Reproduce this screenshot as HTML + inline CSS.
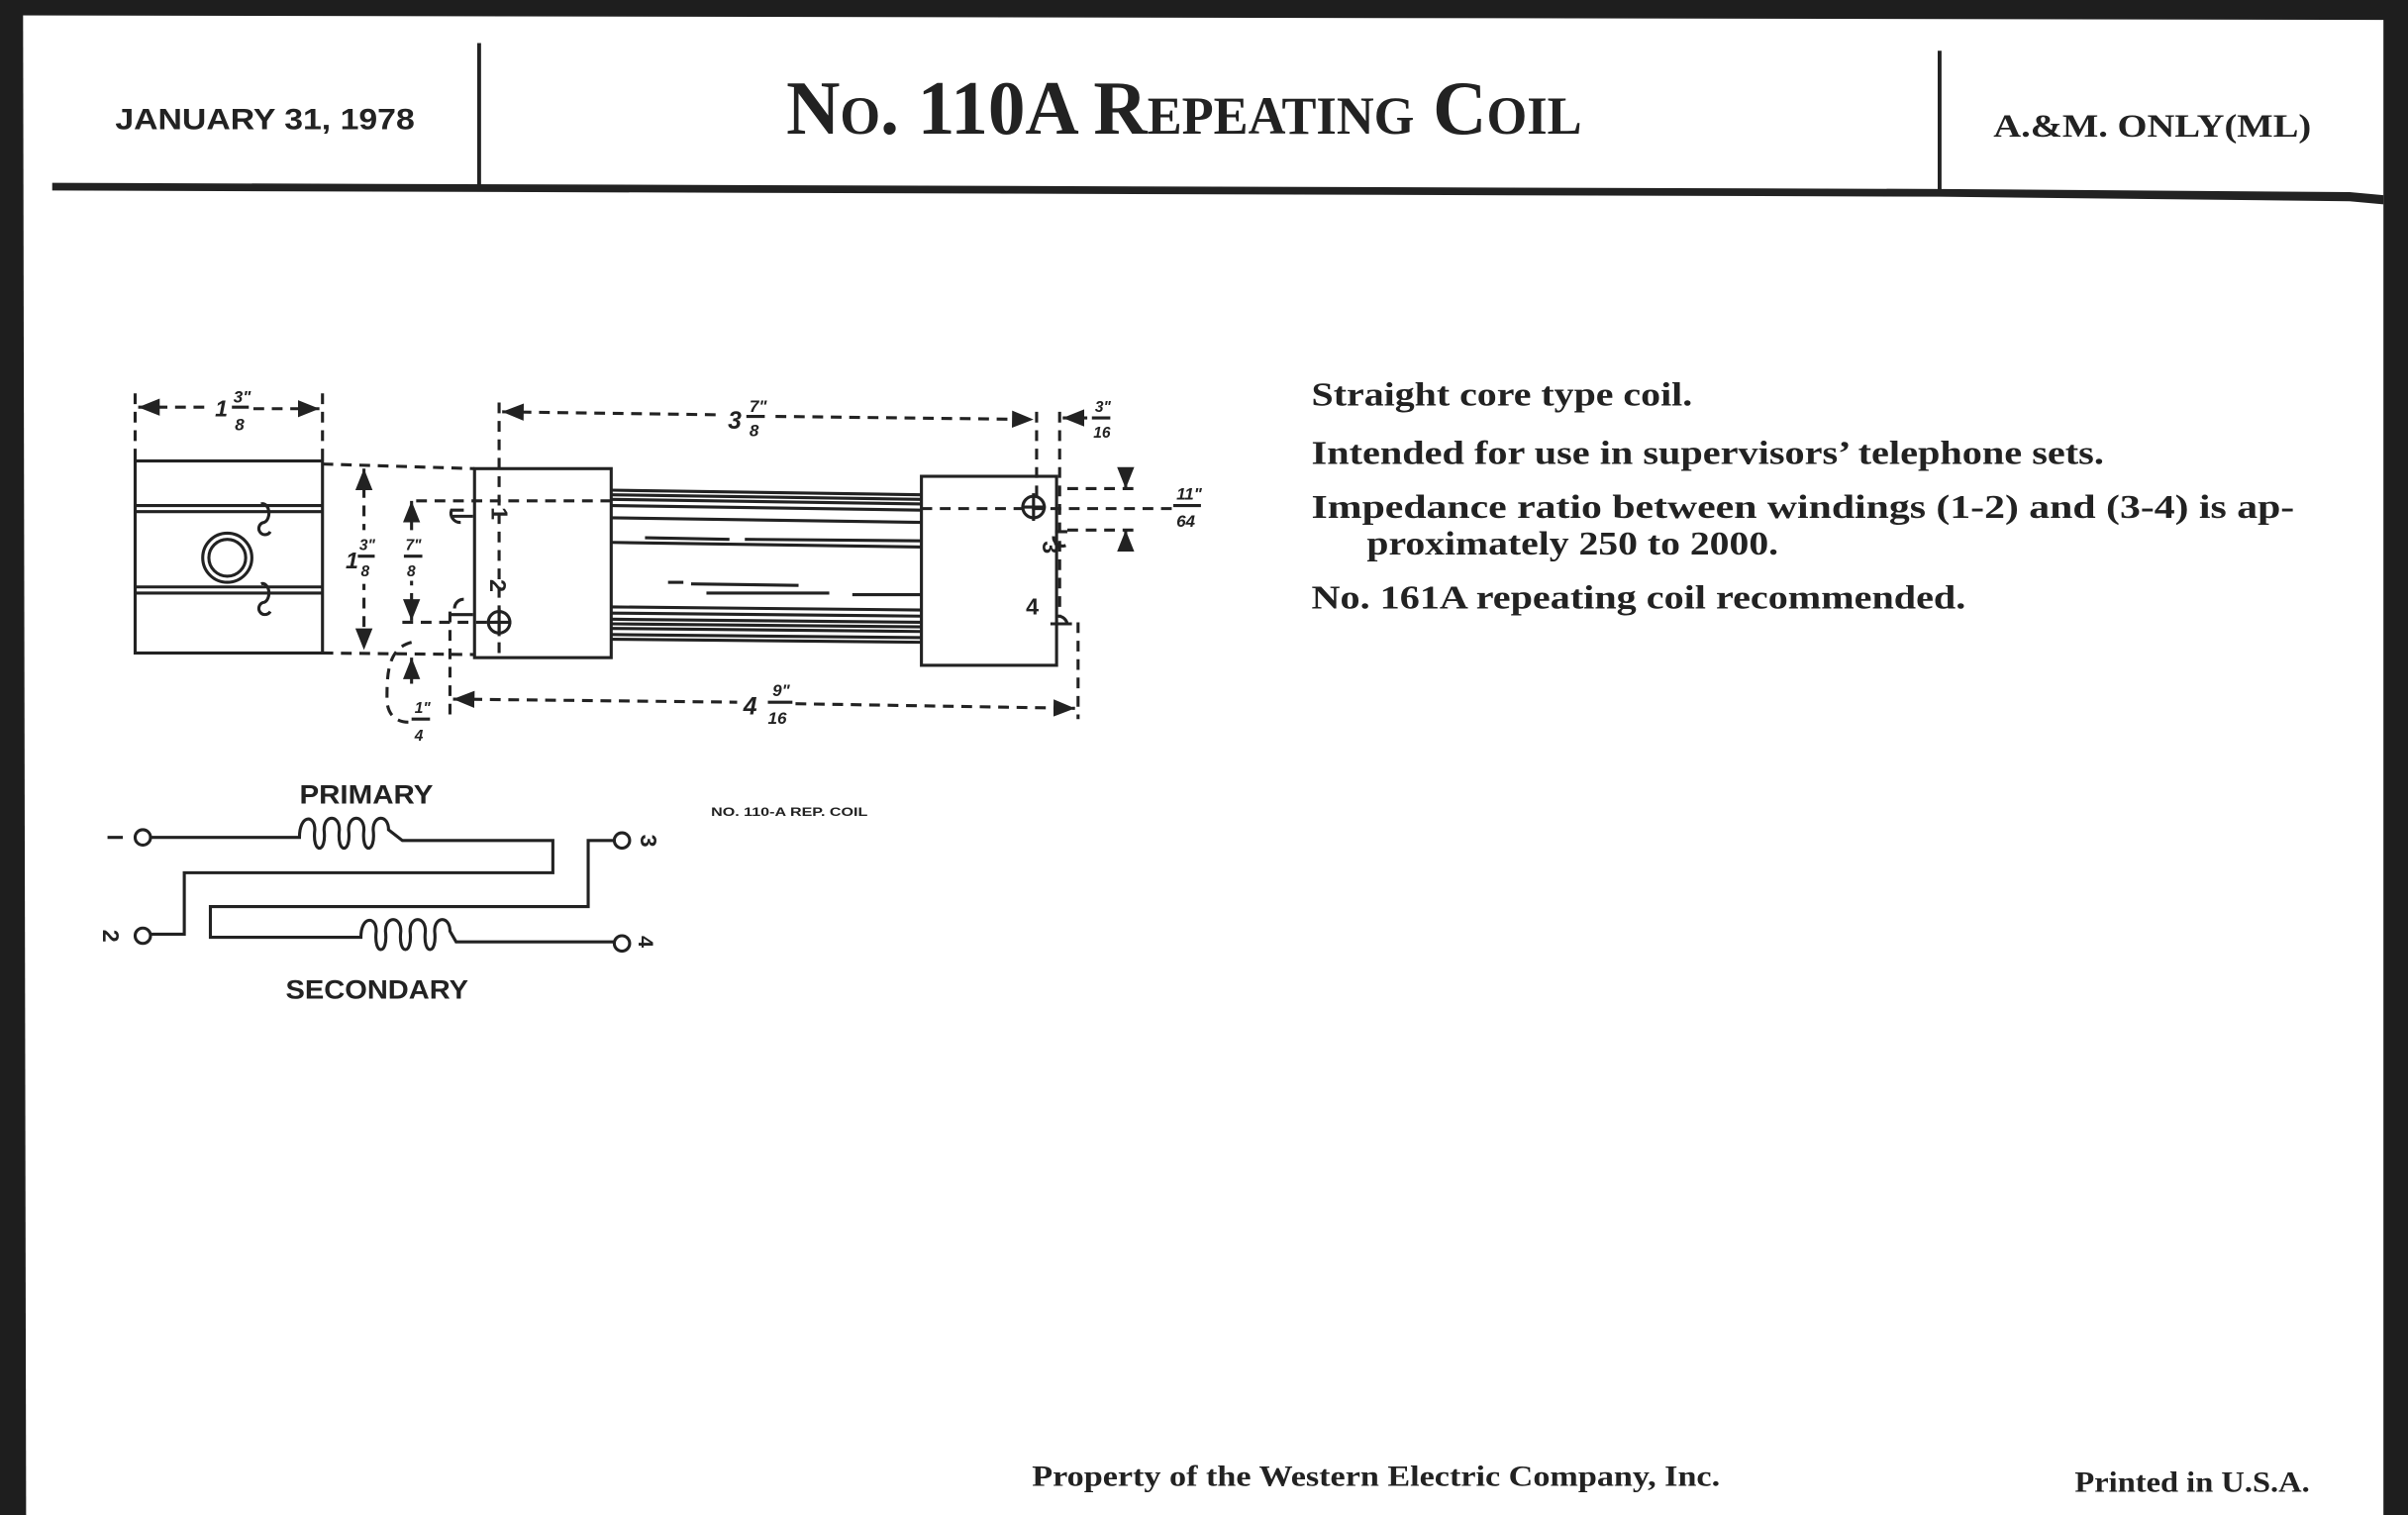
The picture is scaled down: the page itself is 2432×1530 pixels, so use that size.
<!DOCTYPE html>
<html><head><meta charset="utf-8"><style>
html,body{margin:0;padding:0;background:#fff;}
svg{display:block;}
.s{font-family:"Liberation Sans",sans-serif;font-weight:bold;fill:#222;}
.r{font-family:"Liberation Serif",serif;fill:#222;}
.d{stroke:#222;stroke-width:2;stroke-dasharray:7,5;fill:none;}
.l{stroke:#222;stroke-width:2;fill:none;}
.i{font-family:"Liberation Sans",sans-serif;font-style:italic;font-weight:bold;fill:#222;}
</style></head><body>
<svg width="2432" height="1530" viewBox="0 0 1568 986" preserveAspectRatio="none" xmlns="http://www.w3.org/2000/svg">
<defs>
<marker id="a" viewBox="0 0 10 10" refX="10" refY="5" markerWidth="7" markerHeight="7" orient="auto-start-reverse"><path d="M0,1 L10,5 L0,9 z" fill="#222"/></marker>
</defs>
<rect width="1568" height="986" fill="#fff"/>
<!-- border -->
<polygon points="0,0 1568,0 1568,13 0,10" fill="#1e1e1e"/>
<rect x="1552" y="0" width="16" height="986" fill="#1e1e1e"/>
<polygon points="0,0 15,0 17,986 0,986" fill="#1e1e1e"/>
<!-- header -->
<text class="s" x="75" y="84" font-size="19" textLength="195" lengthAdjust="spacingAndGlyphs">JANUARY 31, 1978</text>
<line x1="312" y1="28" x2="312" y2="121" stroke="#222" stroke-width="2.5"/>
<text class="r" x="512" y="87" font-size="50" font-weight="bold" style="font-variant:small-caps" textLength="518" lengthAdjust="spacingAndGlyphs">No. 110A Repeating Coil</text>
<line x1="1263" y1="33" x2="1263" y2="125" stroke="#222" stroke-width="2.5"/>
<text class="r" x="1298" y="89" font-size="21" font-weight="bold" textLength="207" lengthAdjust="spacingAndGlyphs">A.&amp;M. ONLY(ML)</text>
<polygon points="34,119 1263,123 1530,125 1552,127 1552,133 1530,131 1263,128 34,124" fill="#222"/>
<!-- body text -->
<g class="r" font-size="21.5" font-weight="bold">
<text x="854" y="264" textLength="248" lengthAdjust="spacingAndGlyphs">Straight core type coil.</text>
<text x="854" y="302" textLength="516" lengthAdjust="spacingAndGlyphs">Intended for use in supervisors’ telephone sets.</text>
<text x="854" y="337" textLength="640" lengthAdjust="spacingAndGlyphs">Impedance ratio between windings (1-2) and (3-4) is ap-</text>
<text x="890" y="361" textLength="268" lengthAdjust="spacingAndGlyphs">proximately 250 to 2000.</text>
<text x="854" y="396" textLength="426" lengthAdjust="spacingAndGlyphs">No. 161A repeating coil recommended.</text>
</g>
<!-- footer -->
<text class="r" x="672" y="967" font-size="19" font-weight="bold" textLength="448" lengthAdjust="spacingAndGlyphs">Property of the Western Electric Company, Inc.</text>
<text class="r" x="1351" y="971" font-size="19" font-weight="bold" textLength="153" lengthAdjust="spacingAndGlyphs">Printed in U.S.A.</text>

<!-- drawing: end view -->
<rect x="88" y="300" width="122" height="125" class="l" stroke-width="2.5"/>
<line x1="88" y1="329" x2="210" y2="329" class="l"/><line x1="88" y1="333" x2="210" y2="333" class="l"/>
<line x1="88" y1="382" x2="210" y2="382" class="l"/><line x1="88" y1="386" x2="210" y2="386" class="l"/>
<circle cx="148" cy="363" r="16" class="l" stroke-width="2.5"/><circle cx="148" cy="363" r="12" class="l"/>
<path d="M170,328 a4,6 0 1 1 2,12 a4,4 0 1 0 4,6" class="l" stroke-width="2.5"/>
<path d="M170,380 a4,6 0 1 1 2,12 a4,4 0 1 0 4,6" class="l" stroke-width="2.5"/>
<!-- 1 3/8 top -->
<line x1="88" y1="256" x2="88" y2="300" class="d"/><line x1="210" y1="256" x2="210" y2="300" class="d"/>
<line x1="90" y1="265" x2="135" y2="265" class="d" marker-start="url(#a)"/>
<line x1="165" y1="266" x2="208" y2="266" class="d" marker-end="url(#a)"/>
<text class="i" x="140" y="271" font-size="15">1</text>
<text class="i" x="152" y="262" font-size="11">3"</text><line x1="151" y1="265" x2="162" y2="265" class="l"/><text class="i" x="153" y="280" font-size="11">8</text>
<!-- middle block -->
<rect x="309" y="305" width="89" height="123" class="l" stroke-width="2.5"/>
<rect x="600" y="310" width="88" height="123" class="l" stroke-width="2.5"/>
<g class="l" stroke-width="2">
<line x1="398" y1="319" x2="600" y2="322"/><line x1="398" y1="322" x2="600" y2="325"/><line x1="398" y1="325" x2="600" y2="328"/><line x1="398" y1="329" x2="600" y2="332"/>
<line x1="398" y1="337" x2="600" y2="340"/><line x1="398" y1="353" x2="600" y2="356"/>
<line x1="420" y1="350" x2="475" y2="351"/><line x1="485" y1="351" x2="600" y2="352"/>
<line x1="435" y1="379" x2="445" y2="379"/><line x1="450" y1="380" x2="520" y2="381"/>
<line x1="460" y1="386" x2="540" y2="386"/><line x1="555" y1="387" x2="600" y2="387"/>
<line x1="398" y1="395" x2="600" y2="397"/><line x1="398" y1="399" x2="600" y2="401"/><line x1="398" y1="403" x2="600" y2="405"/><line x1="398" y1="406" x2="600" y2="408"/><line x1="398" y1="409" x2="600" y2="411"/><line x1="398" y1="413" x2="600" y2="415"/><line x1="398" y1="416" x2="600" y2="418"/>
</g>
<!-- terminals -->
<circle cx="325" cy="405" r="7" class="l"/><line x1="325" y1="396" x2="325" y2="414" class="l"/><line x1="317" y1="405" x2="333" y2="405" class="l"/>
<circle cx="673" cy="330" r="7" class="l"/><line x1="673" y1="321" x2="673" y2="339" class="l"/><line x1="665" y1="330" x2="681" y2="330" class="l"/>
<path d="M302,332 h-8 a6,6 0 0 0 6,8 M294,336 h14" class="l" stroke-width="3"/>
<path d="M302,390 a6,6 0 0 0 -6,6 M294,400 h14" class="l" stroke-width="3"/>
<path d="M687,346 h8 M686,349 a6,6 0 0 0 8,6" class="l" stroke-width="3"/>
<path d="M689,401 a6,6 0 0 1 6,6 M684,406 h14" class="l" stroke-width="3"/>
<g class="s" font-size="15">
<text transform="translate(320,330) rotate(90)">1</text>
<text transform="translate(319,377) rotate(90)">2</text>
<text transform="translate(679,352) rotate(90)">3</text>
<text x="668" y="400">4</text>
</g>
<!-- dashed dims -->
<line x1="210" y1="302" x2="309" y2="305" class="d"/>
<line x1="210" y1="425" x2="309" y2="426" class="d"/>
<line x1="325" y1="262" x2="325" y2="430" class="d"/>
<line x1="675" y1="268" x2="675" y2="328" class="d"/>
<line x1="690" y1="268" x2="690" y2="402" class="d"/>
<line x1="327" y1="268" x2="470" y2="270" class="d" marker-start="url(#a)"/>
<line x1="505" y1="271" x2="673" y2="273" class="d" marker-end="url(#a)"/>
<text class="i" x="474" y="279" font-size="16">3</text>
<text class="i" x="488" y="268" font-size="11">7"</text><line x1="486" y1="271" x2="498" y2="271" class="l"/><text class="i" x="488" y="284" font-size="11">8</text>
<line x1="708" y1="272" x2="692" y2="272" class="d" marker-end="url(#a)"/>
<text class="i" x="713" y="268" font-size="10">3"</text><line x1="711" y1="272" x2="723" y2="272" class="l"/><text class="i" x="712" y="285" font-size="10">16</text>
<line x1="398" y1="326" x2="270" y2="326" class="d"/>
<line x1="600" y1="331" x2="765" y2="331" class="d"/>
<line x1="695" y1="318" x2="740" y2="318" class="d"/>
<line x1="695" y1="345" x2="740" y2="345" class="d"/>
<line x1="733" y1="308" x2="733" y2="318" class="l" marker-end="url(#a)"/>
<line x1="733" y1="355" x2="733" y2="345" class="l" marker-end="url(#a)"/>
<text class="i" x="766" y="325" font-size="11">11"</text><line x1="764" y1="329" x2="782" y2="329" class="l"/><text class="i" x="766" y="343" font-size="11">64</text>
<!-- vertical 1 3/8 -->
<line x1="237" y1="305" x2="237" y2="423" class="d" marker-start="url(#a)" marker-end="url(#a)"/>
<rect x="224" y="345" width="30" height="35" fill="#fff"/>
<text class="i" x="225" y="370" font-size="15">1</text>
<text class="i" x="234" y="358" font-size="10">3"</text><line x1="233" y1="362" x2="244" y2="362" class="l"/><text class="i" x="235" y="375" font-size="10">8</text>
<!-- 7/8 -->
<line x1="268" y1="326" x2="268" y2="404" class="d" marker-start="url(#a)" marker-end="url(#a)"/>
<rect x="262" y="346" width="22" height="32" fill="#fff"/>
<text class="i" x="264" y="358" font-size="10">7"</text><line x1="263" y1="362" x2="275" y2="362" class="l"/><text class="i" x="265" y="375" font-size="10">8</text>
<line x1="262" y1="405" x2="325" y2="405" class="d"/>
<line x1="268" y1="445" x2="268" y2="428" class="l" marker-end="url(#a)"/>
<path d="M268,418 C252,422 252,440 252,455 C252,465 258,470 266,470" class="d"/>
<text class="i" x="270" y="464" font-size="10">1"</text><line x1="268" y1="468" x2="280" y2="468" class="l"/><text class="i" x="270" y="482" font-size="10">4</text>
<!-- 4 9/16 -->
<line x1="293" y1="398" x2="293" y2="465" class="d"/>
<line x1="702" y1="405" x2="702" y2="468" class="d"/>
<line x1="295" y1="455" x2="480" y2="457" class="d" marker-start="url(#a)"/>
<line x1="518" y1="458" x2="700" y2="461" class="d" marker-end="url(#a)"/>
<text class="i" x="484" y="465" font-size="16">4</text>
<text class="i" x="503" y="453" font-size="11">9"</text><line x1="500" y1="457" x2="516" y2="457" class="l"/><text class="i" x="500" y="471" font-size="11">16</text>

<!-- schematic -->
<text class="s" x="195" y="523" font-size="17" textLength="87" lengthAdjust="spacingAndGlyphs">PRIMARY</text>
<text class="s" x="186" y="650" font-size="17" textLength="119" lengthAdjust="spacingAndGlyphs">SECONDARY</text>
<text class="s" x="463" y="531" font-size="8" textLength="102" lengthAdjust="spacingAndGlyphs">NO. 110-A REP. COIL</text>
<g class="l" stroke-width="2.5">
<circle cx="93" cy="545" r="5"/>
<line x1="70" y1="545" x2="80" y2="545"/>
<path d="M98,545 H195 C195,530 205,530 205,540 C203,556 213,556 211,540 C211,530 221,530 221,540 C219,556 229,556 227,540 C227,530 237,530 237,540 C235,556 245,556 243,540 C243,530 253,530 253,540 L262,547 H360 V568 H120 V608 H98"/>
<circle cx="93" cy="609" r="5"/>
<circle cx="405" cy="547" r="5"/>
<path d="M400,547 H383 V590 H137 V610 H235 C235,596 245,596 245,606 C243,622 253,622 251,606 C251,596 261,596 261,606 C259,622 269,622 267,606 C267,596 277,596 277,606 C275,622 285,622 283,606 C283,596 293,596 293,606 L297,613 H400"/>
<circle cx="405" cy="614" r="5"/>
</g>
<g class="s" font-size="15">
<text transform="translate(67,605) rotate(90)">2</text>
<text transform="translate(417,543) rotate(90)">3</text>
<text transform="translate(416,609) rotate(90)" font-size="14">4</text>
</g>
</svg>
</body></html>
